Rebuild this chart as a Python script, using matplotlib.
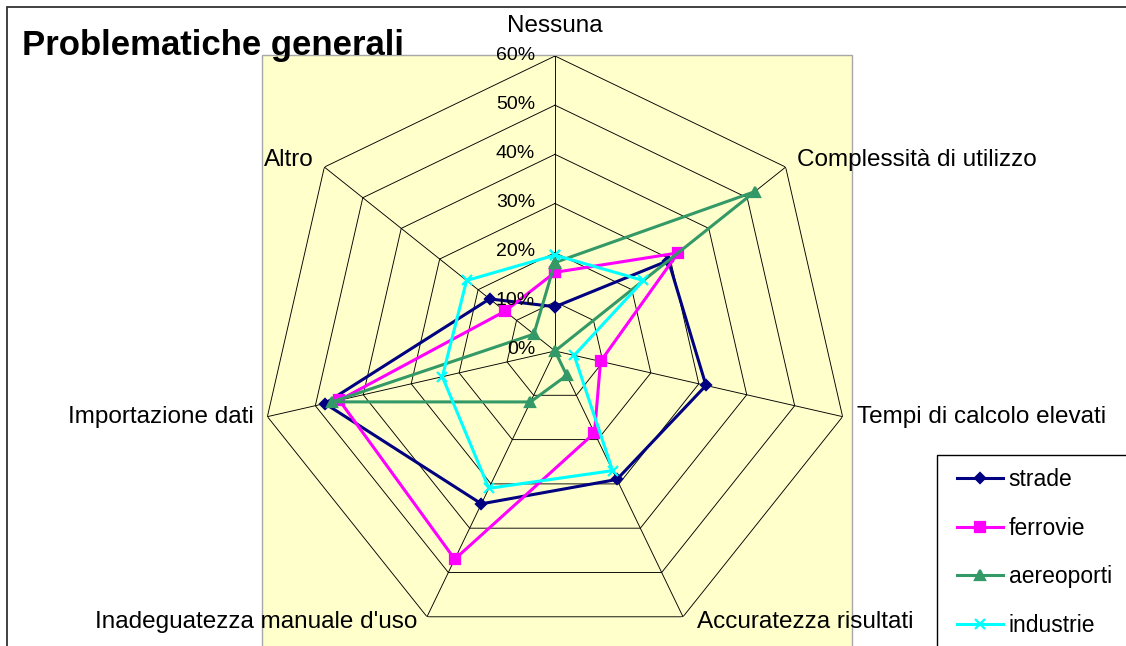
import numpy as np
import matplotlib.pyplot as plt
from matplotlib.patches import Rectangle

plt.rcParams['font.family'] = ['Liberation Sans', 'DejaVu Sans']

# dati
categorie = ['Nessuna', 'Complessità di utilizzo', 'Tempi di calcolo elevati',
             'Accuratezza risultati', "Inadeguatezza manuale d'uso",
             'Importazione dati', 'Altro']
strade = [9, 29.5, 31.5, 29, 34.5, 48, 17]
ferrovie = [16, 32, 9.5, 18.5, 47, 45, 13]
aereoporti = [18, 52, 0, 5.5, 11.5, 46.5, 5.5]
industrie = [19.5, 23, 4, 27, 31, 23.5, 23]
livelli = [0, 10, 20, 30, 40, 50, 60]

W, H = 1126, 646
fig = plt.figure(figsize=(W / 100, H / 100), dpi=100)

# bordo esterno e sfondo giallo dell'area del grafico
fig.patches.append(Rectangle((7 / W, -0.1), 1.2, (H - 7) / H + 0.1, transform=fig.transFigure,
                             fill=False, edgecolor='#333333', lw=1.3, zorder=-2))
fig.patches.append(Rectangle((262 / W, -0.05), 590 / W, (H - 55) / H + 0.05, transform=fig.transFigure,
                             facecolor='#FFFFCC', edgecolor='#A8A8A8', lw=1, zorder=-1))

cx, cy, rad = 555, 351, 295
ax = fig.add_axes([(cx - rad) / W, (H - cy - rad) / H, 2 * rad / W, 2 * rad / H], projection='polar')
ax.set_facecolor('none')
ax.set_theta_zero_location('N')
ax.set_theta_direction(-1)
ax.set_ylim(0, 60)
ax.grid(False)
ax.spines['polar'].set_visible(False)
ax.set_xticks([])
ax.set_yticks([])

n = len(categorie)
ang = np.arange(n) * 2 * np.pi / n
ang_c = np.append(ang, ang[0])

# griglia poligonale
for r in livelli[1:]:
    ax.plot(ang_c, [r] * (n + 1), color='black', lw=0.65, zorder=1)
for a in ang:
    ax.plot([a, a], [0, 60], color='black', lw=0.65, zorder=1)

serie = [
    ('strade', strade, '#000080', 'D', 5.5),
    ('ferrovie', ferrovie, '#FF00FF', 's', 6.5),
    ('aereoporti', aereoporti, '#339966', '^', 7.5),
    ('industrie', industrie, '#00FFFF', 'x', 7.5),
]
for nome, vals, col, mk, ms in serie:
    v = vals + [vals[0]]
    ax.plot(ang_c, v, color=col, lw=2.2, marker=mk, markersize=ms,
            markeredgewidth=1.6, markeredgecolor=col, markerfacecolor=col,
            label=nome, zorder=3, clip_on=False)

for r in livelli:
    ax.annotate(f'{r}%', xy=(0, r), xytext=(-20, 1), textcoords='offset pixels',
                ha='right', va='center', fontsize=14, annotation_clip=False, zorder=4)

offs = [((0, 30), 'center'), ((11, 7), 'left'), ((14, 0), 'left'), ((14, -5), 'left'),
        ((-10, -5), 'right'), ((-14, 0), 'right'), ((-11, 7), 'right')]
for a, lab, (xy, ha) in zip(ang, categorie, offs):
    ax.annotate(lab, xy=(a, 60), xytext=xy, textcoords='offset pixels',
                ha=ha, va='center', fontsize=17.5, annotation_clip=False)

fig.text(22 / W, 1 - 55 / H, 'Problematiche generali', fontsize=25, fontweight='bold',
         ha='left', va='baseline')

# legenda
fig.patches.append(Rectangle((937 / W, -0.1), 0.3, (H - 455) / H + 0.1, transform=fig.transFigure,
                             facecolor='white', edgecolor='black', lw=1, zorder=2))
leg = fig.legend(loc='upper left', bbox_to_anchor=(957 / W, 1 - 468 / H), frameon=False,
                 fontsize=16.5, handlelength=2.0, handletextpad=0.25, labelspacing=1.12,
                 borderpad=0, borderaxespad=0)
leg.set_zorder(5)

fig.savefig('out.png', dpi=100)
